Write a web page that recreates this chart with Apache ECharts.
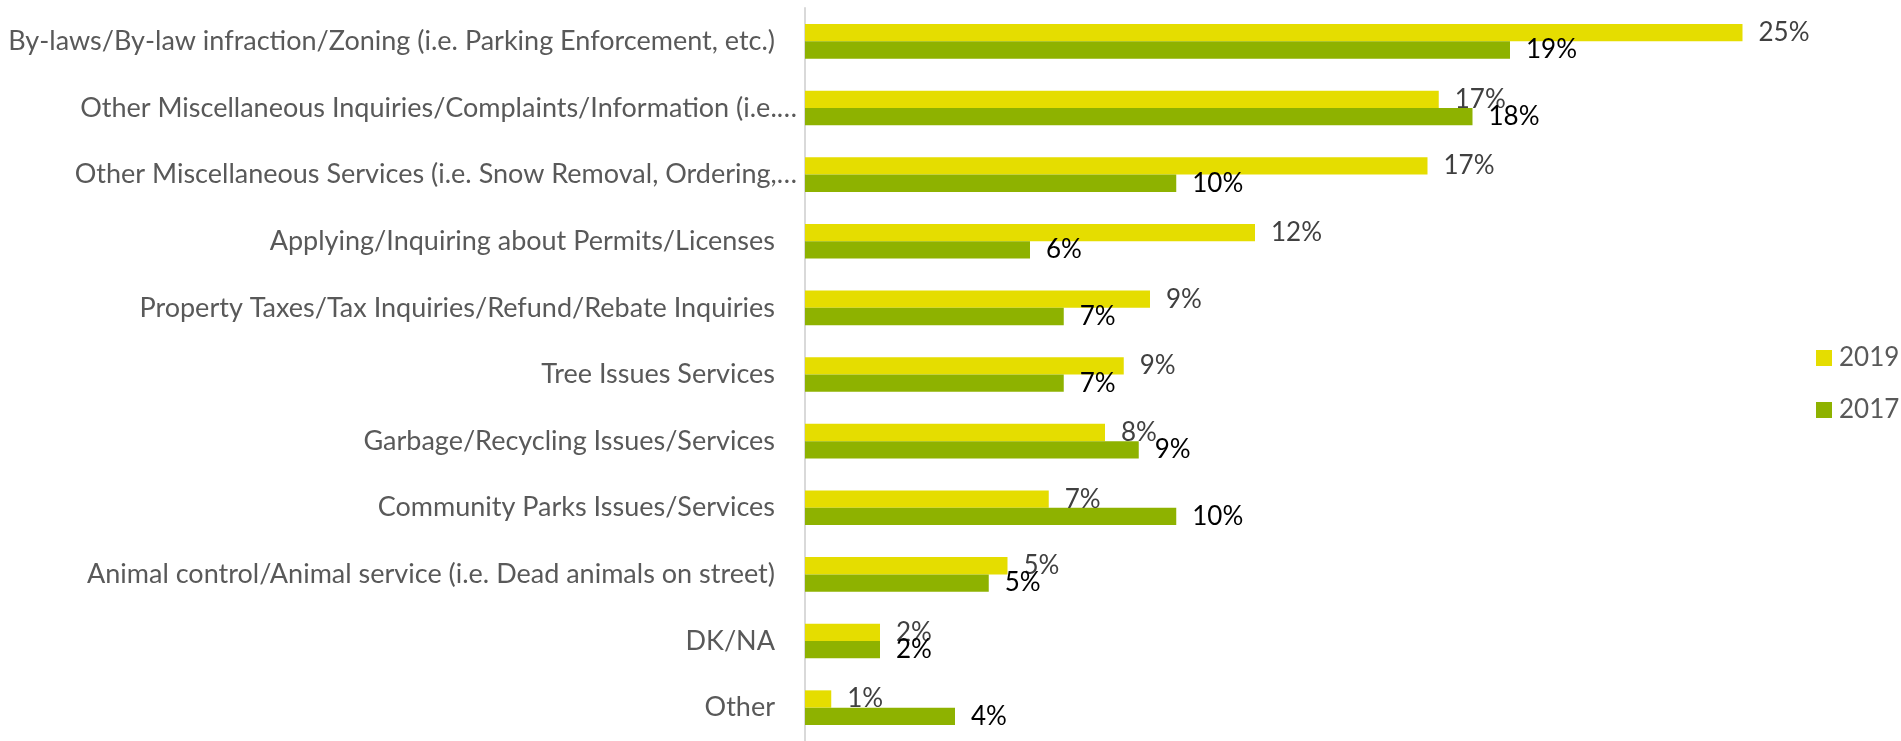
<!DOCTYPE html>
<html>
<head>
<meta charset="utf-8">
<title>Reasons for contacting the city</title>
<script src="https://cdn.jsdelivr.net/npm/echarts@6/dist/echarts.min.js"></script>
<style>
  html, body { margin: 0; padding: 0; background: #ffffff; }
  #chart { width: 1901px; height: 741px; }
</style>
</head>
<body>
<div id="chart"></div>
<script>
// Categories, top to bottom
const categories = [
  'By-laws/By-law infraction/Zoning (i.e. Parking Enforcement, etc.)',
  'Other Miscellaneous Inquiries/Complaints/Information (i.e.\u2026',
  'Other Miscellaneous Services (i.e. Snow Removal, Ordering,\u2026',
  'Applying/Inquiring about Permits/Licenses',
  'Property Taxes/Tax Inquiries/Refund/Rebate Inquiries',
  'Tree Issues Services',
  'Garbage/Recycling Issues/Services',
  'Community Parks Issues/Services',
  'Animal control/Animal service (i.e. Dead animals on street)',
  'DK/NA',
  'Other'
];

// Share of respondents (%)
const values2019 = [25.0, 16.9, 16.6, 12.0, 9.2, 8.5, 8.0, 6.5, 5.4, 2.0, 0.7];
const values2017 = [18.8, 17.8, 9.9, 6.0, 6.9, 6.9, 8.9, 9.9, 4.9, 2.0, 4.0];

const seriesNames = ['2019', '2017'];

const FONT = 'Lato';

const chart = echarts.init(document.getElementById('chart'), null, { renderer: 'canvas' });

const pct = (p) => Math.round(p.value) + '%';

chart.setOption({
  animation: false,
  backgroundColor: '#ffffff',
  textStyle: { fontFamily: FONT },
  grid: { left: 805, right: 46, top: 8, bottom: -8, containLabel: false },
  legend: {
    data: seriesNames,
    orient: 'vertical',
    left: 1811,
    top: 340,
    itemWidth: 16,
    itemHeight: 16,
    itemGap: 26,
    icon: 'rect',
    textStyle: { color: '#595959', fontSize: 26, fontFamily: FONT, lineHeight: 26, padding: [0, 0, 0, 2] }
  },
  xAxis: {
    type: 'value',
    min: 0,
    max: 28,
    show: false
  },
  yAxis: {
    type: 'category',
    data: categories,
    inverse: true,
    axisLine: { show: true, lineStyle: { color: '#d9d9d9', width: 2 } },
    axisTick: { show: false },
    splitLine: { show: false },
    axisLabel: {
      color: '#595959',
      fontSize: 27,
      fontFamily: FONT,
      margin: 8,
      formatter: (v) => v.endsWith('\u2026') ? '{t|' + v + '}' : '{n|' + v + '}',
      rich: {
        t: { color: '#595959', fontSize: 27, fontFamily: FONT },
        n: { color: '#595959', fontSize: 27, fontFamily: FONT, padding: [0, 22, 0, 0] }
      }
    }
  },
  series: [
    {
      name: seriesNames[0],
      type: 'bar',
      data: values2019,
      barGap: '0%',
      barCategoryGap: '48%',
      itemStyle: { color: '#e5dd00' },
      label: {
        show: true,
        position: 'right',
        distance: 16,
        formatter: pct,
        color: '#404040',
        fontSize: 26,
        fontFamily: FONT
      }
    },
    {
      name: seriesNames[1],
      type: 'bar',
      data: values2017,
      barGap: '0%',
      barCategoryGap: '48%',
      itemStyle: { color: '#8eb200' },
      label: {
        show: true,
        position: 'right',
        distance: 16,
        formatter: pct,
        color: '#000000',
        fontSize: 26,
        fontFamily: FONT
      }
    }
  ]
});
</script>
</body>
</html>
